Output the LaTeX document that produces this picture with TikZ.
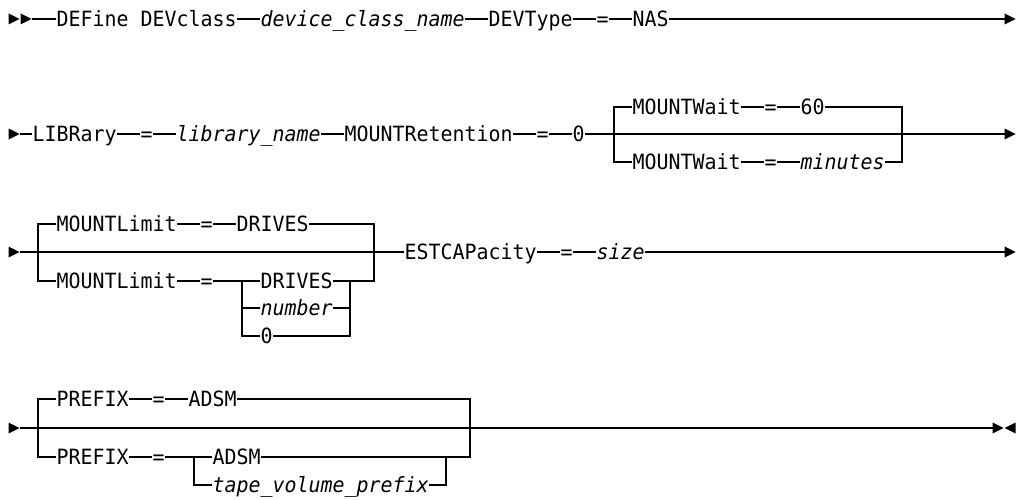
\documentclass[tikz,border=0pt]{standalone}
\usepackage{fontspec}
\newfontfamily\diafont[FakeStretch=0.949]{DejaVu Sans Mono}
\begin{document}
\begin{tikzpicture}[x=1pt,y=-1pt,
  line width=1.3pt,
  kw/.style={inner sep=0pt, anchor=west, text height=15.3pt, text depth=0pt,
    font={\diafont\fontsize{21}{21}\selectfont}},
  var/.style={kw, font={\diafont\fontsize{21}{21}\selectfont\itshape}},
  rail/.style={draw=black, line width=1.3pt, line join=miter, line cap=butt},
  tipfill/.style={fill=black, draw=none}]
\useasboundingbox (0,0) rectangle (1019,500);

% ---------- Row 1 ----------
\fill[tipfill] (8.5,13.5) -- (19.5,19) -- (8.5,24.5) -- cycle;
\fill[tipfill] (20.5,13.5) -- (31.5,19) -- (20.5,24.5) -- cycle;
\coordinate (r1s) at (31.5,19);
\node[kw]  (r1a) at (56,19)  {DEFine DEVclass};
\node[var] (r1b) at (260,19) {device\_class\_name};
\node[kw]  (r1c) at (488,19) {DEVType};
\node[kw]  (r1d) at (596,19) {=};
\node[kw]  (r1e) at (632,19) {NAS};
\coordinate (r1z) at (1004.5,19);
\fill[tipfill] (1004.5,13.5) -- (1015.5,19) -- (1004.5,24.5) -- cycle;
\draw[rail] (r1s) -- (r1a.west) (r1a.east) -- (r1b.west) (r1b.east) -- (r1c.west)
  (r1c.east) -- (r1d.west) (r1d.east) -- (r1e.west) (r1e.east) -- (r1z);

% ---------- Row 2 ----------
\fill[tipfill] (8.5,128.5) -- (19.5,134) -- (8.5,139.5) -- cycle;
\coordinate (r2s) at (19.5,134);
\node[kw]  (r2a) at (32,134)  {LIBRary};
\node[kw]  (r2b) at (140,134) {=};
\node[var] (r2c) at (176,134) {library\_name};
\node[kw]  (r2d) at (344,134) {MOUNTRetention};
\node[kw]  (r2e) at (536,134) {=};
\node[kw]  (r2f) at (572,134) {0};
\coordinate (r2z) at (1004.5,134);
\fill[tipfill] (1004.5,128.5) -- (1015.5,134) -- (1004.5,139.5) -- cycle;
\draw[rail] (r2s) -- (r2a.west) (r2a.east) -- (r2b.west) (r2b.east) -- (r2c.west)
  (r2c.east) -- (r2d.west) (r2d.east) -- (r2e.west) (r2e.east) -- (r2f.west)
  (r2f.east) -- (r2z);
% MOUNTWait choice
\node[kw]  (r2u1) at (632,107) {MOUNTWait};
\node[kw]  (r2u2) at (764,107) {=};
\node[kw]  (r2u3) at (800,107) {60};
\node[kw]  (r2l1) at (632,162) {MOUNTWait};
\node[kw]  (r2l2) at (764,162) {=};
\node[var] (r2l3) at (800,162) {minutes};
\coordinate (r2lb) at (614,162);
\coordinate (r2rb) at (902,162);
\draw[rail] (r2u1.west) -| (r2lb) -- (r2l1.west);
\draw[rail] (r2u3.east) -| (r2rb) -- (r2l3.east);
\draw[rail] (r2u1.east) -- (r2u2.west) (r2u2.east) -- (r2u3.west)
  (r2l1.east) -- (r2l2.west) (r2l2.east) -- (r2l3.west);

% ---------- Row 3 ----------
\fill[tipfill] (8.5,246.5) -- (19.5,252) -- (8.5,257.5) -- cycle;
\coordinate (r3s) at (19.5,252);
\node[kw]  (r3a) at (404,252) {ESTCAPacity};
\node[kw]  (r3b) at (560,252) {=};
\node[var] (r3c) at (596,252) {size};
\coordinate (r3z) at (1004.5,252);
\fill[tipfill] (1004.5,246.5) -- (1015.5,252) -- (1004.5,257.5) -- cycle;
\draw[rail] (r3s) -- (r3a.west) (r3a.east) -- (r3b.west) (r3b.east) -- (r3c.west)
  (r3c.east) -- (r3z);
% MOUNTLimit choice
\node[kw]  (r3u1) at (56,224)   {MOUNTLimit};
\node[kw]  (r3u2) at (200,224)  {=};
\node[kw]  (r3u3) at (236,224)  {DRIVES};
\node[kw]  (r3l1) at (56,281)   {MOUNTLimit};
\node[kw]  (r3l2) at (200,281)  {=};
\node[kw]  (r3o1) at (260,281)  {DRIVES};
\node[var] (r3o2) at (260,308) {number};
\node[kw]  (r3o3) at (260,336)  {0};
\coordinate (r3lb) at (38,281);
\coordinate (r3rb) at (374,281);
\coordinate (r3il) at (242,281);
\coordinate (r3ilm) at (242,308);
\coordinate (r3ilb) at (242,336);
\coordinate (r3ir) at (350,281);
\coordinate (r3irm) at (350,308);
\coordinate (r3irb) at (350,336);
\draw[rail] (r3u1.west) -| (r3lb) -- (r3l1.west);
\draw[rail] (r3u3.east) -| (r3rb) -- (r3ir);
\draw[rail] (r3u1.east) -- (r3u2.west) (r3u2.east) -- (r3u3.west)
  (r3l1.east) -- (r3l2.west) (r3l2.east) -- (r3il);
\draw[rail] (r3o1.west) -| (r3ilb) -- (r3o3.west);
\draw[rail] (r3o1.east) -| (r3irb) -- (r3o3.east);
\draw[rail] (r3ilm) -- (r3o2.west) (r3o2.east) -- (r3irm);

% ---------- Row 4 ----------
\fill[tipfill] (8.5,422.5) -- (19.5,428) -- (8.5,433.5) -- cycle;
\coordinate (r4s) at (19.5,428);
\coordinate (r4z) at (992.5,428);
\fill[tipfill] (992.5,422.5) -- (1003.5,428) -- (992.5,433.5) -- cycle;
\fill[tipfill] (1015.5,422.5) -- (1004.5,428) -- (1015.5,433.5) -- cycle;
\draw[rail] (r4s) -- (r4z);
% PREFIX choice
\node[kw]  (r4u1) at (56,399)  {PREFIX};
\node[kw]  (r4u2) at (152,399) {=};
\node[kw]  (r4u3) at (188,399) {ADSM};
\node[kw]  (r4l1) at (56,457)  {PREFIX};
\node[kw]  (r4l2) at (152,457) {=};
\node[kw]  (r4o1) at (212,457) {ADSM};
\node[var] (r4o2) at (212,485) {tape\_volume\_prefix};
\coordinate (r4lb) at (38,457);
\coordinate (r4rb) at (470,457);
\coordinate (r4il) at (194,457);
\coordinate (r4ilb) at (194,485);
\coordinate (r4ir) at (446,457);
\coordinate (r4irb) at (446,485);
\draw[rail] (r4u1.west) -| (r4lb) -- (r4l1.west);
\draw[rail] (r4u3.east) -| (r4rb) -- (r4o1.east);
\draw[rail] (r4u1.east) -- (r4u2.west) (r4u2.east) -- (r4u3.west)
  (r4l1.east) -- (r4l2.west) (r4l2.east) -- (r4il);
\draw[rail] (r4o1.west) -| (r4ilb) -- (r4o2.west);
\draw[rail] (r4o2.east) -| (r4ir);
\end{tikzpicture}
\end{document}
